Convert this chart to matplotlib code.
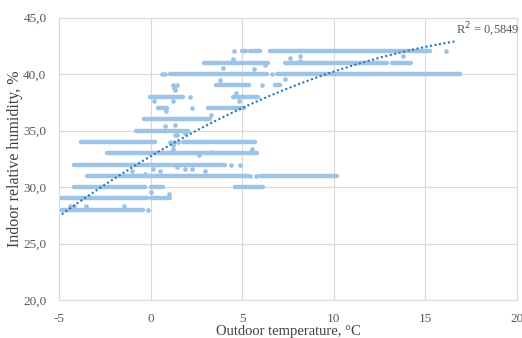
import numpy as np
import matplotlib
matplotlib.use('Agg')
import matplotlib.pyplot as plt
from matplotlib.collections import LineCollection

plt.rcParams['font.family'] = ['Liberation Serif', 'DejaVu Serif']

# Horizontal runs of readings at each humidity step: (level, t_start, t_end)
band_level = [28, 29, 29, 30, 30, 30, 31, 31, 32, 33, 34, 34, 35, 36, 36,
              37, 37, 38, 38, 39, 39, 40, 40, 41, 41, 41, 41, 42, 42, 42]
band_start = [-4.82, -4.90, 0.00, -4.16, 0.00, 4.60, -3.49, 5.97, -4.16, -2.40, -3.82, 1.79, -0.80, -0.36, 2.79,
              0.42, 3.15, -0.05, 4.52, 3.55, 6.79, 1.06, 6.88, 2.92, 4.06, 7.34, 13.16, 4.97, 5.43, 6.52]
band_end = [-0.40, -0.21, 1.06, -0.30, 0.70, 6.15, 5.30, 10.16, 4.06, 5.79, 0.24, 5.70, 2.05, 2.70, 3.24,
            0.88, 5.10, 1.79, 5.88, 5.40, 7.06, 6.34, 16.89, 3.88, 6.43, 12.89, 14.25, 5.24, 5.97, 15.25]

# Isolated readings
pt_temp = [-0.16, -4.40, -4.20, -3.50, -1.45, 0.00, 1.00,
           5.43, 5.74, -1.03, -0.30, 0.15, 0.51, 1.42, 1.88, 2.28, 2.97,
           4.37, 4.88, 2.64, 3.33, 1.24, 1.24, 5.52,
           1.06, 1.30, 1.50, 1.42, 1.88, 1.33, 1.97, 0.79, 1.33,
           3.28, 0.84, 2.24, 0.19, 1.24, 4.84, 4.66, 2.15,
           1.24, 1.30, 1.33, 1.45, 6.06, 3.79, 7.34,
           0.64, 0.79, 6.61, 3.97, 5.64, 6.25,
           4.52, 7.60, 8.16, 8.16, 13.79, 4.57, 16.16]
pt_rh = [28.0, 28.3, 28.3, 28.3, 28.3, 29.6, 29.4,
         31.0, 31.0, 31.4, 31.2, 31.6, 31.4, 31.8, 31.6, 31.6, 31.4,
         32.0, 32.0, 32.8, 33.1, 33.7, 33.4, 33.35,
         34.0, 34.0, 34.0, 34.6, 34.8, 34.6, 35.0, 35.4, 35.5,
         36.4, 36.7, 37.0, 37.6, 37.6, 37.6, 38.3, 38.0,
         39.0, 38.8, 38.6, 39.0, 39.0, 39.5, 39.6,
         40.0, 40.0, 40.0, 40.5, 40.45, 40.8,
         41.3, 41.43, 41.6, 41.2, 41.6, 42.0, 42.0]

# 2nd order polynomial trend: rh = c0 + c1*t + c2*t^2
trend_coef = [32.73, 0.957, -0.0208]
trend_range = [-4.85, 16.6]
r2 = 0.5849

xticks = [-5, 0, 5, 10, 15, 20]
yticks = [20, 25, 30, 35, 40, 45]

dot_color = '#9dc3e6'
trend_color = '#2e75b6'
text_color = '#595959'
grid_color = '#d9d9d9'

fig = plt.figure(figsize=(5.22, 3.38), dpi=100)
ax = fig.add_axes([0.113, 0.112, 0.877, 0.836])

segs = [[(s, lv), (e, lv)] for lv, s, e in zip(band_level, band_start, band_end)]
lc = LineCollection(segs, colors=dot_color, linewidths=3.2, capstyle='round', zorder=2)
ax.add_collection(lc)
ax.plot(pt_temp, pt_rh, 'o', color=dot_color, markersize=3.4, markeredgewidth=0, zorder=2)

t = np.linspace(trend_range[0], trend_range[1], 200)
rh_fit = trend_coef[0] + trend_coef[1] * t + trend_coef[2] * t ** 2
ax.plot(t, rh_fit, color=trend_color, linewidth=1.5, linestyle=(0, (1, 1.2)), zorder=3)
ax.text(trend_range[1] + 0.1, rh_fit[-1] + 0.2, 'R$^2$ = ' + f'{r2:.4f}'.replace('.', ','),
        fontsize=9, color=text_color, ha='left', va='bottom')

ax.set_xlim(-5, 20)
ax.set_ylim(20, 45)
ax.set_xticks(xticks)
ax.set_yticks(yticks)
ax.set_xticklabels([str(v) for v in xticks])
ax.set_yticklabels([f'{v:.1f}'.replace('.', ',') for v in yticks])
ax.tick_params(axis='x', length=0, labelsize=9.5, colors=text_color, pad=9)
ax.tick_params(axis='y', length=0, labelsize=9.5, colors=text_color, pad=9)
ax.grid(True, color=grid_color, linewidth=0.8, zorder=0)
ax.set_axisbelow(True)
for sp in ax.spines.values():
    sp.set_color(grid_color)
    sp.set_linewidth(0.8)

ax.set_xlabel('Outdoor temperature, °C', fontsize=10.5, color='#404040', va='center')
ax.set_ylabel('Indoor relative humidity, %', fontsize=11.5, color='#404040', va='center')
ax.xaxis.set_label_coords(0.5, -0.112)
ax.yaxis.set_label_coords(-0.096, 0.5)

fig.savefig('out.png', dpi=100)
